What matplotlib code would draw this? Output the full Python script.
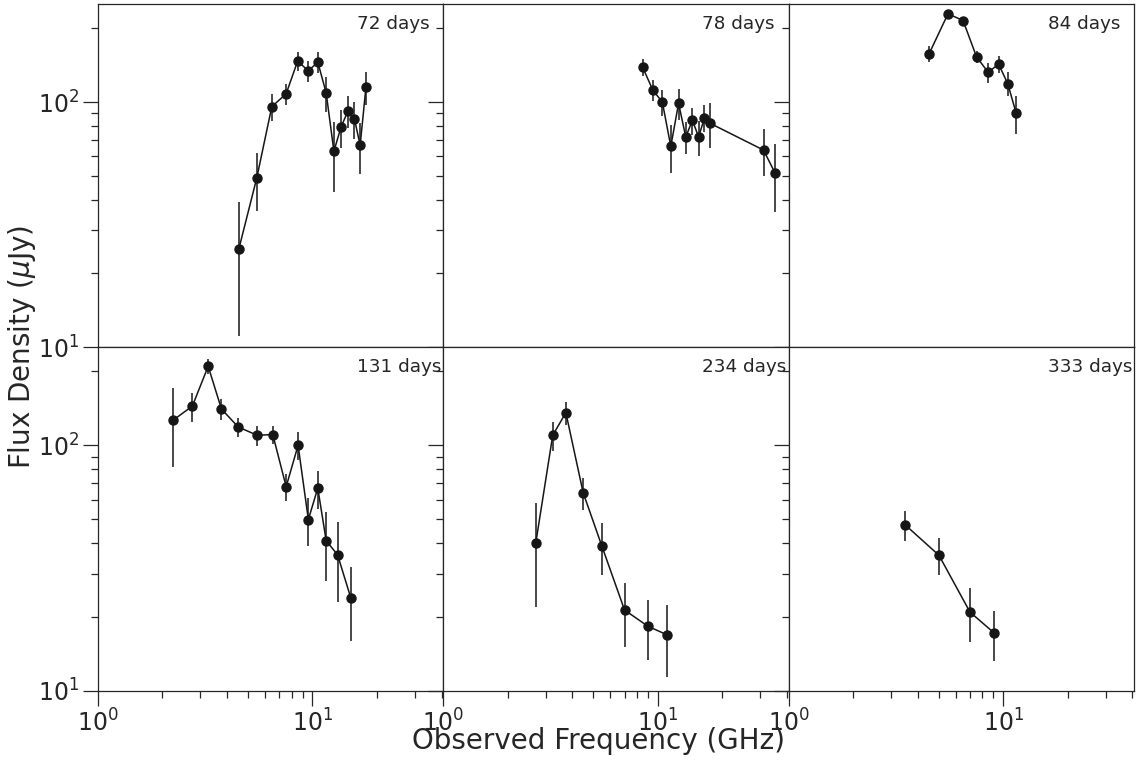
import matplotlib.pyplot as plt
import numpy as np

# observed spectra at six epochs: frequency [GHz], flux density [uJy], 1-sigma error [uJy]
epochs = ["72 days", "78 days", "84 days", "131 days", "234 days", "333 days"]

freq_72 = [4.54, 5.51, 6.47, 7.55, 8.54, 9.58, 10.6, 11.6, 12.6, 13.6, 14.65, 15.7, 16.7, 17.77]
flux_72 = [25.1, 49.1, 95.7, 108.1, 146.9, 134.0, 145.5, 108.9, 63.0, 79.0, 91.9, 85.5, 66.7, 114.8]
err_72 = [14.0, 13.0, 11.8, 10.5, 13.0, 13.0, 14.0, 17.5, 20.0, 14.0, 13.8, 14.5, 15.6, 17.5]

freq_78 = [8.49, 9.48, 10.5, 11.5, 12.5, 13.5, 14.5, 15.5, 16.5, 17.58, 31.1, 35.1]
flux_78 = [139.0, 111.9, 100.0, 65.9, 98.8, 72.1, 84.2, 72.1, 86.1, 81.8, 63.7, 51.6]
err_78 = [11.0, 11.0, 12.0, 14.6, 14.0, 10.6, 10.7, 11.8, 10.8, 17.0, 13.8, 16.0]

freq_84 = [4.51, 5.53, 6.5, 7.51, 8.52, 9.51, 10.5, 11.5]
flux_84 = [157.0, 229.0, 215.0, 153.0, 132.0, 143.0, 118.8, 89.9]
err_84 = [12.0, 8.0, 8.0, 8.5, 12.0, 11.5, 13.4, 16.0]

freq_131 = [2.25, 2.76, 3.27, 3.77, 4.51, 5.53, 6.54, 7.55, 8.58, 9.58, 10.6, 11.6, 13.1, 15.1]
flux_131 = [126.8, 144.5, 210.0, 140.6, 118.8, 109.9, 110.6, 67.8, 100.0, 49.8, 66.9, 40.8, 35.8, 23.9]
err_131 = [45.0, 19.5, 14.0, 14.0, 10.5, 10.5, 9.5, 8.8, 13.0, 11.0, 11.7, 12.9, 12.9, 8.0]

freq_234 = [2.70, 3.24, 3.73, 4.49, 5.49, 7.0, 8.98, 11.0]
flux_234 = [39.9, 109.9, 135.8, 64.1, 38.8, 21.3, 18.3, 16.9]
err_234 = [18.0, 15.0, 14.6, 9.7, 9.3, 6.2, 5.0, 5.5]

freq_333 = [3.5, 5.02, 7.0, 9.05]
flux_333 = [47.3, 35.6, 20.9, 17.2]
err_333 = [6.6, 6.1, 5.2, 4.0]

freqs = [freq_72, freq_78, freq_84, freq_131, freq_234, freq_333]
fluxes = [flux_72, flux_78, flux_84, flux_131, flux_234, flux_333]
errs = [err_72, err_78, err_84, err_131, err_234, err_333]

text_color = "#262626"
point_color = "#161616"

plt.rcParams["font.family"] = ["DejaVu Sans"]
plt.rcParams["text.color"] = text_color
plt.rcParams["axes.edgecolor"] = text_color
plt.rcParams["xtick.color"] = text_color
plt.rcParams["ytick.color"] = text_color
plt.rcParams["axes.linewidth"] = 0.9


def main():
    fig, axs = plt.subplots(2, 3, sharex=True, sharey=True, figsize=(11.38, 7.6), dpi=100)
    fig.subplots_adjust(left=0.0859, right=0.9965, bottom=0.0914, top=0.9947,
                        wspace=0, hspace=0)

    for k, ax in enumerate(axs.flat):
        ax.errorbar(freqs[k], fluxes[k], yerr=errs[k], fmt="-o", color=point_color,
                    ms=6.5, lw=1.1, elinewidth=1.1, capsize=0)
        ax.set_xscale("log")
        ax.set_yscale("log")
        ax.text(0.75, 0.928, epochs[k], transform=ax.transAxes, fontsize=13.2,
                color=text_color)
        ax.tick_params(which="major", direction="out", length=10.5, width=0.9,
                       labelsize=17, pad=3)
        ax.tick_params(which="minor", direction="out", length=5, width=0.9)
        ax.tick_params(axis="y", which="both", right=False)
        ax.tick_params(axis="x", which="both", top=False)

    for ax in axs[0, :]:
        ax.tick_params(axis="x", which="both", bottom=False, labelbottom=False)

    axs[0, 0].set_xlim(1.0, 40.7)
    axs[0, 0].set_ylim(10.0, 251.0)

    fig.text(0.526, 0.0245, "Observed Frequency (GHz)", ha="center", va="center",
             fontsize=20)
    fig.text(0.0193, 0.5434, r"Flux Density ($\mu$Jy)", ha="center", va="center",
             rotation=90, fontsize=20)

    plt.savefig("out.png", dpi=100)


if "__main__" == __name__:
    main()
